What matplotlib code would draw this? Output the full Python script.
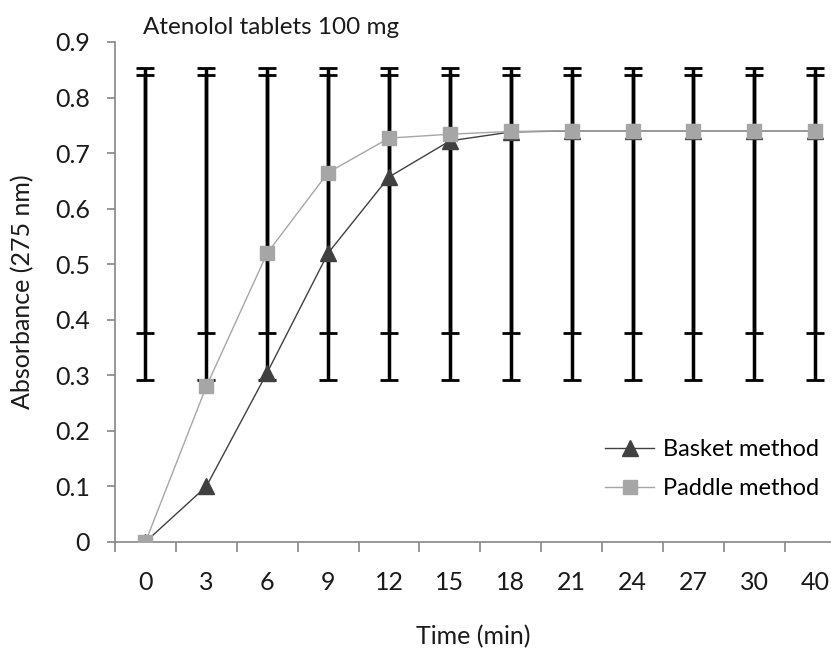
import numpy as np
import matplotlib.pyplot as plt
from matplotlib.ticker import FixedLocator, FuncFormatter

plt.rcParams['font.family'] = ['Lato', 'DejaVu Sans']

# Daten
zeit = ['0', '3', '6', '9', '12', '15', '18', '21', '24', '27', '30', '40']
basket = [0.0, 0.10, 0.305, 0.52, 0.657, 0.722, 0.738, 0.740, 0.740, 0.740, 0.740, 0.740]
paddle = [0.0, 0.28, 0.520, 0.665, 0.727, 0.734, 0.739, 0.740, 0.740, 0.740, 0.740, 0.740]

# Fehlerbalken (untere / obere Grenze)
basket_low = [0.292] * 12
basket_high = [0.840] * 12
paddle_low = [0.376] * 12
paddle_high = [0.853] * 12

x = np.arange(len(zeit))

fig = plt.figure(figsize=(8.31, 6.48), dpi=100)
ax = fig.add_axes([0.1384, 0.1636, 0.8616, 0.7716])

achsen_grau = '#868686'
text_farbe = '#1a1a1a'

# Fehlerbalken
for low, high in [(basket_low, basket_high), (paddle_low, paddle_high)]:
    low = np.array(low)
    high = np.array(high)
    mid = (low + high) / 2
    half = (high - low) / 2
    ax.errorbar(x, mid, yerr=half, fmt='none', ecolor='black',
                elinewidth=2.5, capsize=6.5, capthick=2.0, zorder=2)

ax.plot(x, basket, color='#404040', lw=1.0, marker='^', markersize=12,
        markerfacecolor='#404040', markeredgecolor='#404040',
        label='Basket method', zorder=3)
ax.plot(x, paddle, color='#a6a6a6', lw=1.0, marker='s', markersize=10,
        markerfacecolor='#a6a6a6', markeredgecolor='#a6a6a6',
        label='Paddle method', zorder=4)

ax.set_xlim(-0.5, 11.26)
ax.set_ylim(0, 0.9)

ax.set_xticks(x)
ax.set_xticklabels(zeit)
ax.tick_params(axis='x', which='major', length=0, pad=21, labelsize=18,
               labelcolor=text_farbe)
ax.xaxis.set_minor_locator(FixedLocator(np.arange(-0.5, 11.5, 1.0)))
ax.tick_params(axis='x', which='minor', length=7, direction='out',
               color=achsen_grau, width=1.2)

ax.set_yticks(np.arange(0, 0.91, 0.1))
ax.yaxis.set_major_formatter(FuncFormatter(lambda v, p: '0' if abs(v) < 1e-9 else f'{v:.1f}'))
ax.tick_params(axis='y', length=6, direction='out', color=achsen_grau,
               width=1.2, labelsize=18, pad=12, labelcolor=text_farbe)

for s in ['top', 'right']:
    ax.spines[s].set_visible(False)
for s in ['left', 'bottom']:
    ax.spines[s].set_color(achsen_grau)
    ax.spines[s].set_linewidth(1.2)

ax.set_xlabel('Time (min)', fontsize=18, labelpad=22, color=text_farbe)
ax.set_ylabel('Absorbance (275 nm)', fontsize=18, labelpad=15, color=text_farbe)

fig.text(0.172, 0.957, 'Atenolol tablets 100 mg', fontsize=17.5,
         color=text_farbe, va='center', ha='left')

leg = ax.legend(loc='center left', bbox_to_anchor=(0.684, 0.146),
                frameon=False, fontsize=17, handlelength=2.1,
                handletextpad=0.35, labelspacing=0.75, borderpad=0,
                borderaxespad=0)

fig.savefig('out.png', dpi=100)
